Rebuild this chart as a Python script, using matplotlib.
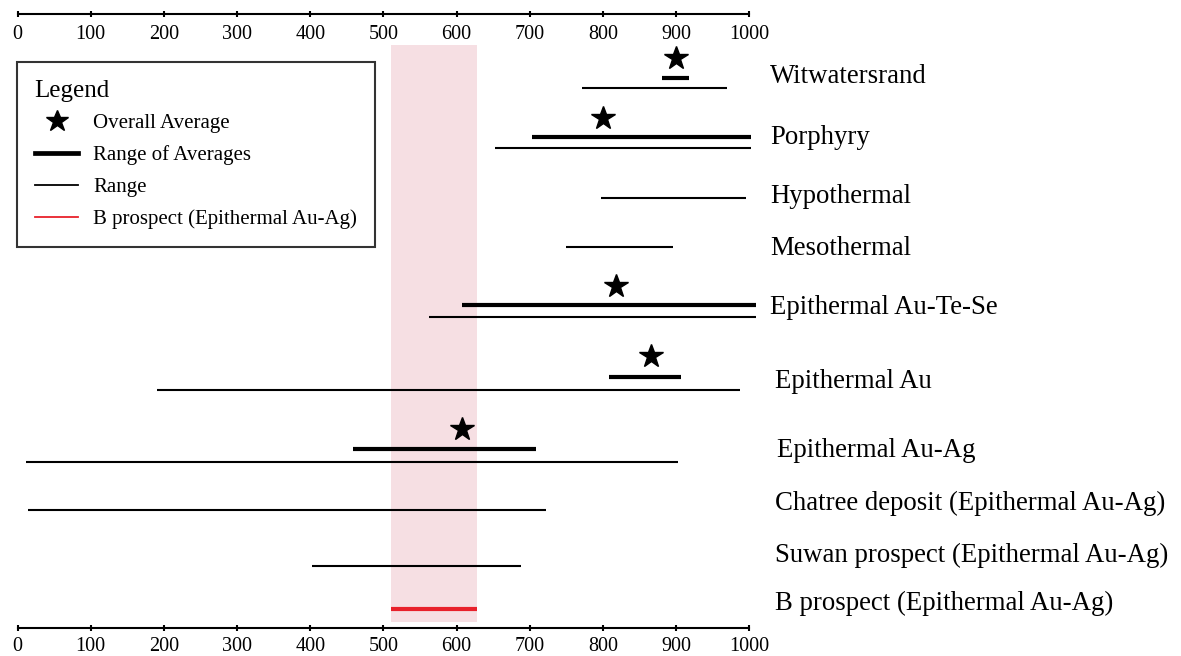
import numpy as np
import matplotlib.pyplot as plt
from matplotlib.lines import Line2D

plt.rcParams['font.family'] = ['Liberation Serif', 'DejaVu Serif']

# deposit types, top to bottom
deposits = ['Witwatersrand', 'Porphyry', 'Hypothermal', 'Mesothermal',
            'Epithermal Au-Te-Se', 'Epithermal Au', 'Epithermal Au-Ag',
            'Chatree deposit (Epithermal Au-Ag)',
            'Suwan prospect (Epithermal Au-Ag)',
            'B prospect (Epithermal Au-Ag)']

# full range (thin lines)
range_lo = [772, 653, 797, 750, 562, 190, 12, 14, 402]
range_hi = [969, 1003, 995, 896, 1009, 987, 903, 722, 688]

# range of averages (thick lines) and overall average (stars)
avg_lo = [881, 703, np.nan, np.nan, 608, 808, 458]
avg_hi = [918, 1003, np.nan, np.nan, 1009, 907, 709]
overall_avg = [900, 800, np.nan, np.nan, 818, 865, 607]

# B prospect
b_lo, b_hi = 510, 628

ticks = list(range(0, 1001, 100))

# layout (rows in pixel-like units, top = 14, bottom = 628)
label_base = [83, 144, 203, 255, 314, 388, 457, 510, 562, 610]
label_x = [1028, 1028, 1028, 1028, 1028, 1035, 1038, 1035, 1035, 1035]
star_y = [58, 118, 0, 0, 286, 356, 429]
avg_y = [78, 137, 0, 0, 305, 377, 449]
range_y = [88, 148, 198, 247, 317, 390, 462, 510, 566]
b_y = 609
band_top, band_bot = 45, 622

W, H = 1181, 656
fig = plt.figure(figsize=(W / 100, H / 100), dpi=100)
ax = fig.add_axes([17.5 / W, 28 / H, 731.8 / W, 614 / H])
ax.set_xlim(0, 1000)
ax.set_ylim(628, 14)

red = '#e8212b'
ax.fill_betweenx([band_top, band_bot], b_lo, b_hi, color='#f6dfe3', lw=0, zorder=0)

ax.hlines(range_y, range_lo, range_hi, color='black', lw=1.5, zorder=2, clip_on=False)
ax.hlines(avg_y, avg_lo, avg_hi, color='black', lw=3.0, zorder=2, clip_on=False)
ax.plot(overall_avg, star_y, ls='none', marker='*', ms=17.5, color='black', zorder=3)
ax.hlines(b_y, b_lo, b_hi, color=red, lw=3.0, zorder=3)

for name, x, y in zip(deposits, label_x, label_base):
    ax.text(x, y, name, fontsize=19.3, va='baseline', ha='left', clip_on=False)

for s in ['left', 'right', 'top']:
    ax.spines[s].set_visible(False)
ax.spines['bottom'].set_linewidth(1.5)
ax.set_yticks([])
ax.set_xticks(ticks)
ax.tick_params(axis='x', direction='inout', length=5, width=1.5, labelsize=14.5, pad=4)

top = ax.secondary_xaxis('top')
top.set_xticks(ticks)
top.spines['top'].set_linewidth(1.5)
top.tick_params(axis='x', direction='inout', length=5, width=1.5, labelsize=14.5, pad=-24)

handles = [
    Line2D([], [], ls='none', marker='*', ms=16.5, color='black'),
    Line2D([], [], color='black', lw=3.4),
    Line2D([], [], color='black', lw=1.3),
    Line2D([], [], color=red, lw=1.3),
]
labels = ['Overall Average', 'Range of Averages', 'Range', 'B prospect (Epithermal Au-Ag)']
leg = fig.legend(handles, labels, loc='upper left', bbox_to_anchor=(17 / W, 1 - 62 / H),
                 title='Legend', title_fontsize=18, fontsize=15, frameon=True,
                 fancybox=False, edgecolor='black', borderpad=0.85, handlelength=2.1,
                 handletextpad=0.7, labelspacing=0.58, borderaxespad=0)
leg._legend_box.align = 'left'
leg.get_frame().set_linewidth(1.5)

fig.savefig('out.png', dpi=100)
